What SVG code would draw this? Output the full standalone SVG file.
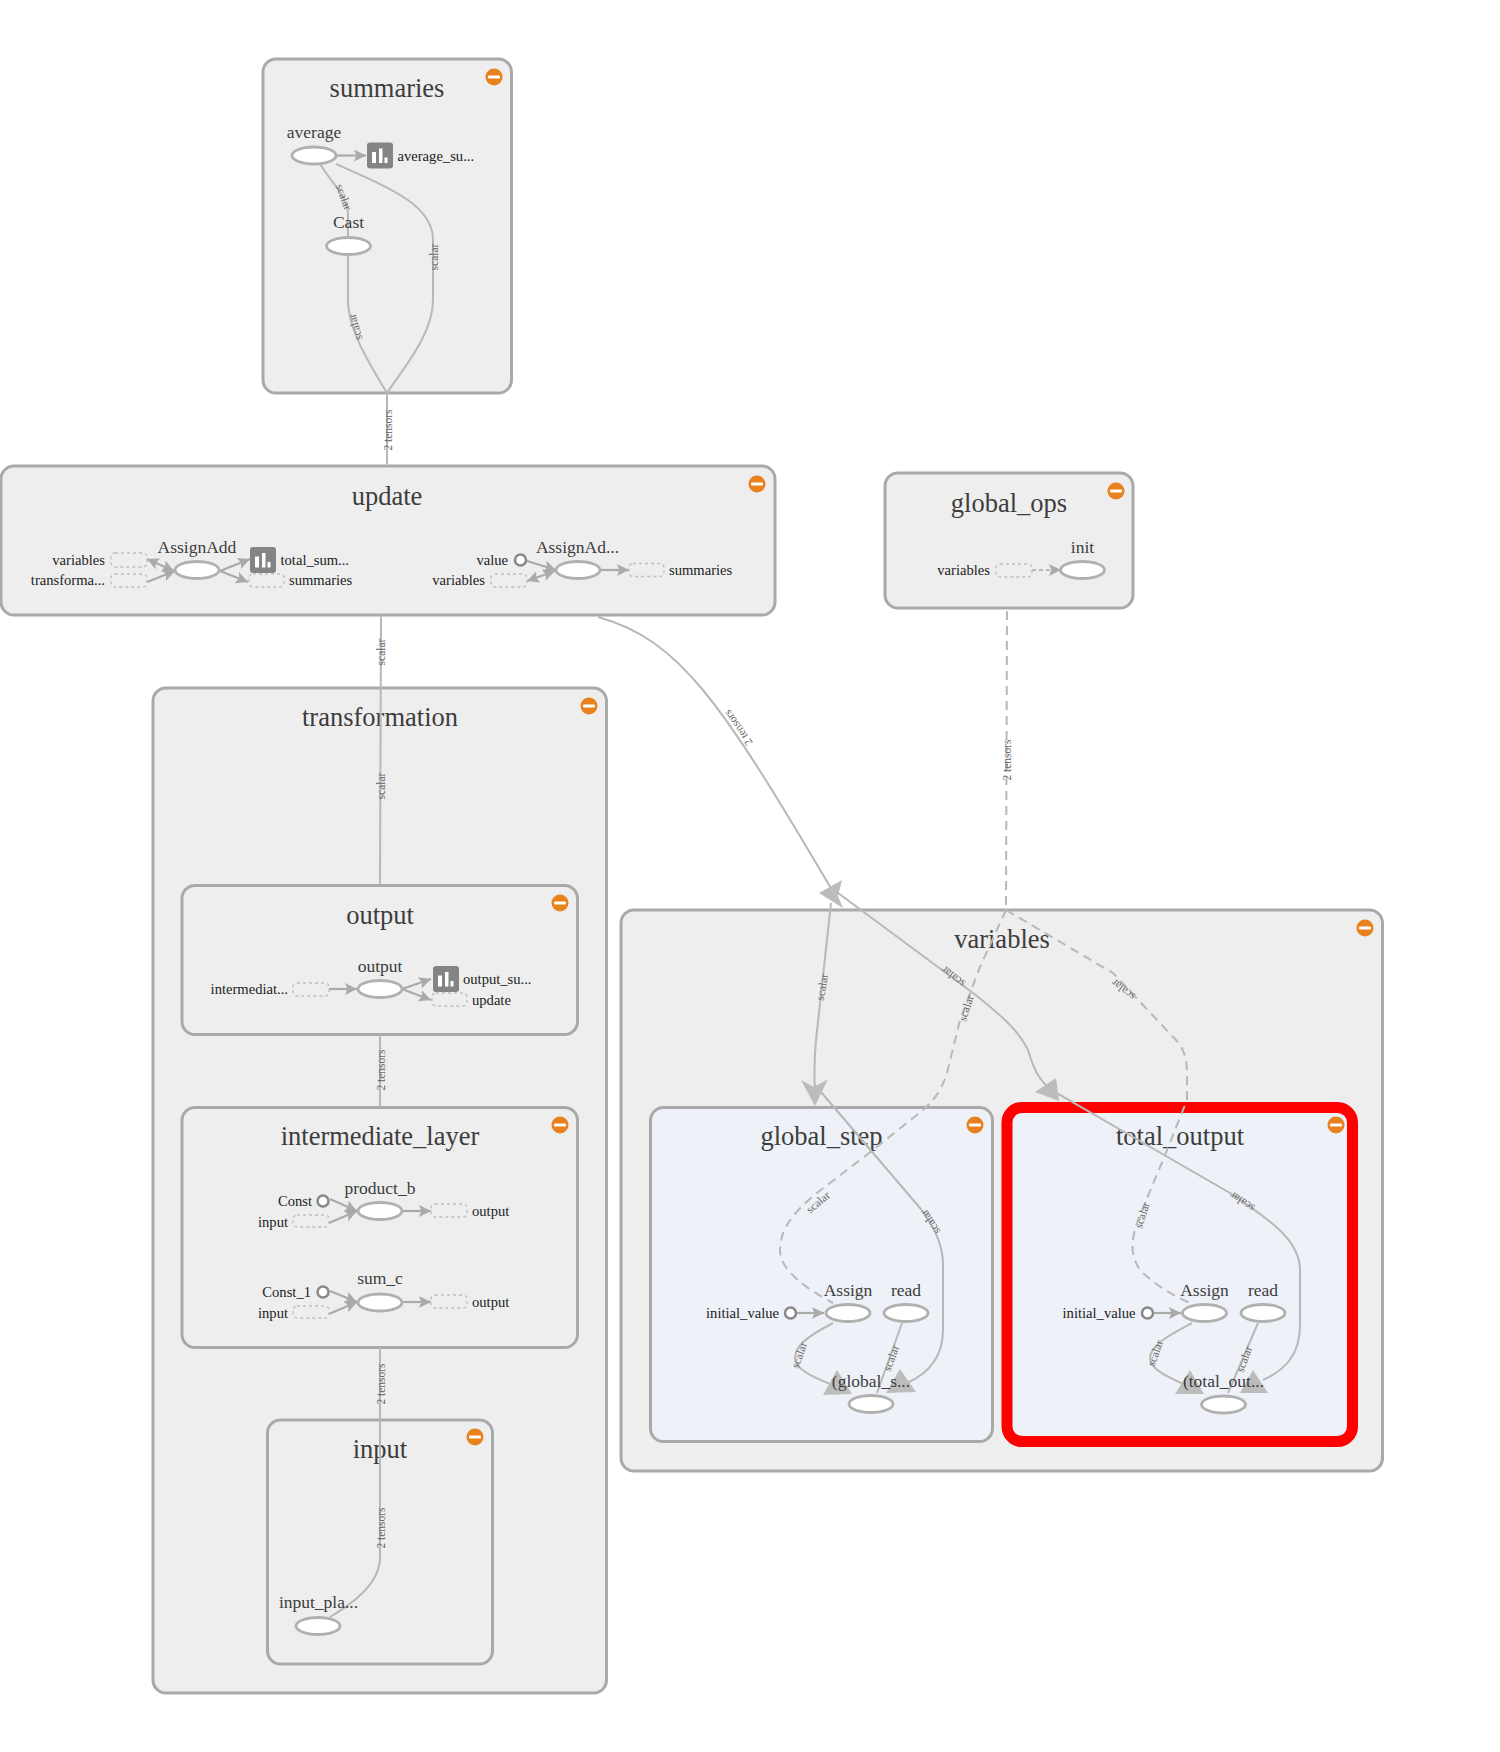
<svg xmlns="http://www.w3.org/2000/svg" width="1500" height="1752" viewBox="0 0 1500 1752">
<style>
text{font-family:"Liberation Serif","Times New Roman",serif}
.box{fill:#eee;stroke:#a9a9a9;stroke-width:3}
.blue{fill:#eef1f7}
.t{font-size:26.500px;fill:#3d3d3d;text-anchor:middle}
.n{font-size:17.500px;fill:#3d3d3d;text-anchor:middle}
.s{font-size:14.600px;fill:#222}
.r{text-anchor:end}
.el{font-size:11.500px;fill:#666;text-anchor:middle}
.op{fill:#fff;stroke:#b0b0b0;stroke-width:2.800}
.c{fill:#fff;stroke:#888;stroke-width:2.500}
.d{fill:#eee;stroke:#c0c0c0;stroke-width:1.400;stroke-dasharray:3 3}
.e{fill:none;stroke:#b8b8b8;stroke-width:2}
.ed{fill:none;stroke:#b8b8b8;stroke-width:2;stroke-dasharray:9 6}
.h{fill:#bcbcbc}
.a{fill:none;stroke:#aaa;stroke-width:2.200;marker-end:url(#arr)}
.b{marker-start:url(#arrs)}
</style>
<defs>
<marker id="arr" viewBox="0 0 10 10" refX="10" refY="5" markerWidth="12" markerHeight="12" markerUnits="userSpaceOnUse" orient="auto"><path d="M0,0L10,5L0,10L2,5Z" fill="#aaa"/></marker>
<marker id="arrs" viewBox="0 0 10 10" refX="0" refY="5" markerWidth="12" markerHeight="12" markerUnits="userSpaceOnUse" orient="auto"><path d="M10,0L0,5L10,10L8,5Z" fill="#aaa"/></marker>
<g id="minus"><circle r="8.500" fill="#e8821e"/><rect x="-6" y="-1.600" width="12" height="3.200" rx="1" fill="#fff"/></g>
<g id="icon"><rect width="26" height="26" rx="3" fill="#848484"/><rect x="5" y="9.500" width="4" height="11" fill="#fff"/><rect x="12" y="6" width="3.500" height="14.500" fill="#fff"/><rect x="17.500" y="15" width="3" height="5.500" fill="#fff"/></g>
</defs>

<g id="summaries"><rect class="box" x="263" y="59" width="248.500" height="334" rx="13"/><text class="t" x="387" y="97">summaries</text><use href="#minus" x="494" y="77"/></g>
<g id="update"><rect class="box" x="1" y="466" width="774" height="149" rx="13"/><text class="t" x="387" y="505">update</text><use href="#minus" x="757" y="484"/></g>
<g id="global_ops"><rect class="box" x="885" y="473" width="248" height="135" rx="13"/><text class="t" x="1009" y="512">global_ops</text><use href="#minus" x="1116" y="491"/></g>
<g id="transformation"><rect class="box" x="153" y="688" width="453.500" height="1005" rx="13"/><text class="t" x="380" y="726">transformation</text><use href="#minus" x="589" y="706"/></g>
<g id="output"><rect class="box" x="182" y="885.500" width="395.500" height="149" rx="13"/><text class="t" x="380" y="924">output</text><use href="#minus" x="560" y="903"/></g>
<g id="intermediate_layer"><rect class="box" x="182" y="1107.500" width="395.500" height="240" rx="13"/><text class="t" x="380" y="1145">intermediate_layer</text><use href="#minus" x="560" y="1125"/></g>
<g id="input"><rect class="box" x="267.500" y="1420" width="225" height="244" rx="13"/><text class="t" x="380" y="1458">input</text><use href="#minus" x="475" y="1437"/></g>
<g id="variables"><rect class="box" x="621" y="910" width="761.500" height="561" rx="13"/><text class="t" x="1002" y="948">variables</text><use href="#minus" x="1365" y="928"/></g>
<g id="global_step"><rect class="box blue" x="650.500" y="1107.500" width="342" height="334" rx="13"/><text class="t" x="821.500" y="1145">global_step</text><use href="#minus" x="975" y="1125"/></g>
<g id="total_output"><rect class="box blue" x="1007" y="1107.500" width="345.500" height="334" rx="15" style="stroke:#f00;stroke-width:11"/><text class="t" x="1180" y="1145">total_output</text><use href="#minus" x="1336" y="1125"/></g>

<g id="connectors">
<path class="e" d="M320,164C333,185 347,195 348,215L348,238"/>
<path class="e" d="M348,254L348,300C348,330 370,365 387,393"/>
<path class="e" d="M336,164C390,188 433,205 433,240L433,300C433,335 402,370 387,393L387,466"/>
<path class="e" d="M381,615L380,885"/>
<path class="e" d="M380,1034L380,1107"/>
<path class="e" d="M380,1347L380,1557C380,1585 350,1605 330,1617"/>
<path class="e" d="M598,617C680,640 720,700 835,895"/>
<path class="e" d="M831,903L816,1040C814,1060 814,1075 815,1095"/>
<path class="e" d="M834,890L973,993C1005,1018 1020,1033 1028,1050C1034,1070 1040,1085 1060,1095L1230,1193C1270,1220 1300,1240 1300,1270L1300,1325C1300,1355 1285,1370 1263,1380"/>
<path class="e" d="M815,1085L920,1208C935,1228 943,1245 943,1265L943,1330C943,1360 925,1375 907,1383"/>
<path class="ed" d="M1007,611L1006,910"/>
<path class="ed" d="M1006,910L980,967L960,1020L947,1073C940,1095 930,1105 913,1118L873,1150L830,1183C800,1205 780,1225 780,1250C780,1270 805,1288 833,1303"/>
<path class="ed" d="M1006,910L1113,973L1173,1037C1185,1048 1187,1060 1187,1075L1187,1100L1163,1160L1140,1215C1130,1240 1130,1255 1140,1270C1155,1285 1172,1295 1190,1303"/>
<path class="e" d="M833,1323C810,1335 795,1345 795,1358C795,1370 815,1378 837,1387"/>
<path class="e" d="M902,1323L877,1393"/>
<path class="e" d="M1192,1323C1170,1335 1150,1345 1150,1358C1150,1370 1170,1378 1190,1387"/>
<path class="e" d="M1258,1323L1228,1393"/>
<path class="h" d="M819,893L842,880L838,896L843,908Z"/>
<path class="h" d="M801,1080L814,1087L828,1079L815,1106Z"/>
<path class="h" d="M1035,1092L1056,1078L1059,1101Z"/>
<path class="h" d="M886,1393L900,1369L916,1392Z"/>
<path class="h" d="M823,1395L837,1370L852,1394Z"/>
<path class="h" d="M1240,1393L1253,1370L1268,1393Z"/>
<path class="h" d="M1175,1394L1190,1370L1204,1394Z"/>
<path class="a" d="M336,155.500L366,155.500"/>
<path class="a b" d="M174,571L147,559"/>
<path class="a" d="M147,582L175,571"/>
<path class="a" d="M220,571L250,559"/>
<path class="a" d="M220,571L248,582"/>
<path class="a" d="M527,561L556,570"/>
<path class="a b" d="M555,571L527,581"/>
<path class="a" d="M600,570L629,570"/>
<path class="ed" style="stroke-dasharray:4 3" d="M1032,570L1052,570"/>
<path class="a" style="stroke:none" d="M1050,570L1061,570"/>
<path class="a" d="M329,989L357,989"/>
<path class="a" d="M402,989L431,979"/>
<path class="a" d="M402,989L431,1000"/>
<path class="a" d="M330,1199L357,1211"/>
<path class="a" d="M329,1223L357,1211"/>
<path class="a" d="M402,1211L431,1211"/>
<path class="a" d="M330,1291L357,1302"/>
<path class="a" d="M329,1314L357,1302"/>
<path class="a" d="M402,1302L431,1302"/>
<path class="a" d="M796,1313L824,1313"/>
<path class="a" d="M1154,1313L1181,1313"/>
<g id="edge-labels">
<text class="el" dy="4" transform="translate(344 197) rotate(70)">scalar</text>
<text class="el" dy="4" transform="translate(434 257) rotate(-90)">scalar</text>
<text class="el" dy="4" transform="translate(355 327) rotate(-106)">scalar</text>
<text class="el" dy="4" transform="translate(388 430) rotate(-90)">2 tensors</text>
<text class="el" dy="4" transform="translate(381 652) rotate(-90)">scalar</text>
<text class="el" dy="4" transform="translate(381 786) rotate(-90)">scalar</text>
<text class="el" dy="4" transform="translate(381 1070) rotate(-90)">2 tensors</text>
<text class="el" dy="4" transform="translate(381 1384) rotate(-90)">2 tensors</text>
<text class="el" dy="4" transform="translate(381 1528) rotate(-90)">2 tensors</text>
<text class="el" dy="4" transform="translate(738 728) rotate(-125)">2 tensors</text>
<text class="el" dy="4" transform="translate(1007 760) rotate(-90)">2 tensors</text>
<text class="el" dy="4" transform="translate(822 987) rotate(-80)">scalar</text>
<text class="el" dy="4" transform="translate(953 977) rotate(-142)">scalar</text>
<text class="el" dy="4" transform="translate(966 1008) rotate(-72)">scalar</text>
<text class="el" dy="4" transform="translate(1123 990) rotate(-142)">scalar</text>
<text class="el" dy="4" transform="translate(818 1202) rotate(-40)">scalar</text>
<text class="el" dy="4" transform="translate(930 1222) rotate(-123)">scalar</text>
<text class="el" dy="4" transform="translate(1142 1215) rotate(-72)">scalar</text>
<text class="el" dy="4" transform="translate(1242 1202) rotate(-147)">scalar</text>
<text class="el" dy="4" transform="translate(799 1355) rotate(-70)">scalar</text>
<text class="el" dy="4" transform="translate(891 1358) rotate(-70)">scalar</text>
<text class="el" dy="4" transform="translate(1155 1353) rotate(-70)">scalar</text>
<text class="el" dy="4" transform="translate(1244 1359) rotate(-70)">scalar</text>
</g>
</g>

<g id="node-average"><ellipse class="op" cx="314" cy="155.500" rx="22" ry="8.500"/><text class="n" x="314" y="138">average</text></g>
<g id="node-average_su"><use href="#icon" x="367" y="142.500"/><text class="s" x="397.500" y="161">average_su...</text></g>
<g id="node-cast"><ellipse class="op" cx="348.500" cy="246" rx="22" ry="8.500"/><text class="n" x="348.500" y="228">Cast</text></g>

<g id="node-update-variables"><rect class="d" x="111" y="553" width="36" height="14" rx="4"/><text class="s r" x="105" y="565">variables</text></g>
<g id="node-update-transforma"><rect class="d" x="111" y="574" width="36" height="13" rx="4"/><text class="s r" x="105" y="585">transforma...</text></g>
<g id="node-assignadd"><ellipse class="op" cx="197" cy="570" rx="22" ry="8.500"/><text class="n" x="197" y="553">AssignAdd</text></g>
<g id="node-total_sum"><use href="#icon" x="250" y="547"/><text class="s" x="280.500" y="565">total_sum...</text></g>
<g id="node-update-summaries1"><rect class="d" x="249" y="574" width="35" height="13" rx="4"/><text class="s" x="289" y="585">summaries</text></g>
<g id="node-value"><circle class="c" cx="520.500" cy="560" r="5.500"/><text class="s r" x="508" y="565">value</text></g>
<g id="node-update-variables2"><rect class="d" x="491" y="574" width="36" height="13" rx="4"/><text class="s r" x="485" y="585">variables</text></g>
<g id="node-assignad2"><ellipse class="op" cx="578" cy="570" rx="22" ry="8.500"/><text class="n" x="577.500" y="553">AssignAd...</text></g>
<g id="node-update-summaries2"><rect class="d" x="629" y="563.500" width="35" height="13" rx="4"/><text class="s" x="669" y="575">summaries</text></g>

<g id="node-ops-variables"><rect class="d" x="996" y="564" width="36" height="13" rx="4"/><text class="s r" x="990" y="575">variables</text></g>
<g id="node-init"><ellipse class="op" cx="1082.500" cy="570" rx="22" ry="8.500"/><text class="n" x="1082.500" y="553">init</text></g>

<g id="node-output-intermediat"><rect class="d" x="293" y="983" width="36" height="13" rx="4"/><text class="s r" x="288" y="994">intermediat...</text></g>
<g id="node-output-op"><ellipse class="op" cx="380" cy="989" rx="22" ry="8.500"/><text class="n" x="380" y="972">output</text></g>
<g id="node-output_su"><use href="#icon" x="433" y="966"/><text class="s" x="463" y="984">output_su...</text></g>
<g id="node-output-update"><rect class="d" x="432" y="993" width="35" height="13" rx="4"/><text class="s" x="472" y="1005">update</text></g>

<g id="node-const"><circle class="c" cx="323" cy="1201" r="5.500"/><text class="s r" x="312" y="1206">Const</text></g>
<g id="node-prod-input"><rect class="d" x="293" y="1215" width="36" height="12" rx="4"/><text class="s r" x="288" y="1227">input</text></g>
<g id="node-product_b"><ellipse class="op" cx="380" cy="1211" rx="22" ry="8.500"/><text class="n" x="380" y="1194">product_b</text></g>
<g id="node-prod-output"><rect class="d" x="431" y="1204" width="36" height="13" rx="4"/><text class="s" x="472" y="1216">output</text></g>
<g id="node-const_1"><circle class="c" cx="323" cy="1292" r="5.500"/><text class="s r" x="311" y="1297">Const_1</text></g>
<g id="node-sum-input"><rect class="d" x="293" y="1306" width="36" height="12" rx="4"/><text class="s r" x="288" y="1318">input</text></g>
<g id="node-sum_c"><ellipse class="op" cx="380" cy="1302.500" rx="22" ry="8.500"/><text class="n" x="380" y="1284">sum_c</text></g>
<g id="node-sum-output"><rect class="d" x="431" y="1295" width="36" height="13" rx="4"/><text class="s" x="472" y="1307">output</text></g>

<g id="node-input_pla"><ellipse class="op" cx="318" cy="1626" rx="22" ry="8.500"/><text class="n" x="318.500" y="1608">input_pla...</text></g>

<g id="node-gs-initial"><circle class="c" cx="790.500" cy="1313" r="5.500"/><text class="s r" x="779" y="1318">initial_value</text></g>
<g id="node-gs-assign"><ellipse class="op" cx="848" cy="1313" rx="22" ry="8.500"/><text class="n" x="848" y="1296">Assign</text></g>
<g id="node-gs-read"><ellipse class="op" cx="906" cy="1313" rx="22" ry="8.500"/><text class="n" x="906" y="1296">read</text></g>
<g id="node-gs-tuple"><ellipse class="op" cx="871" cy="1404" rx="22" ry="8.500"/><text class="n" x="871" y="1387">(global_s...</text></g>

<g id="node-to-initial"><circle class="c" cx="1147.500" cy="1313" r="5.500"/><text class="s r" x="1135.500" y="1318">initial_value</text></g>
<g id="node-to-assign"><ellipse class="op" cx="1204.500" cy="1313" rx="22" ry="8.500"/><text class="n" x="1204.500" y="1296">Assign</text></g>
<g id="node-to-read"><ellipse class="op" cx="1263" cy="1313" rx="22" ry="8.500"/><text class="n" x="1263" y="1296">read</text></g>
<g id="node-to-tuple"><ellipse class="op" cx="1223.500" cy="1404.500" rx="22" ry="8.500"/><text class="n" x="1223.500" y="1387">(total_out...</text></g>
</svg>
